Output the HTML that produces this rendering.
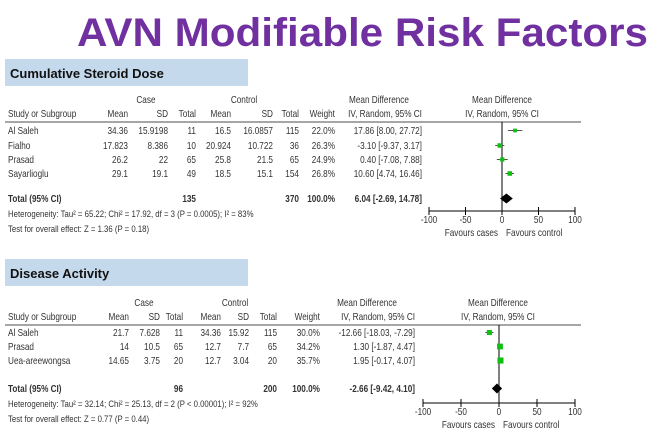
<!DOCTYPE html>
<html><head><meta charset="utf-8"><style>
body{margin:0;background:#fff}
svg{display:block}
</style></head><body>
<svg id="s" width="652" height="442" viewBox="0 0 652 442" xmlns="http://www.w3.org/2000/svg">
<text x="77" y="46" font-family="Liberation Sans, sans-serif" font-weight="bold" font-size="40" fill="#7030A0" textLength="571" lengthAdjust="spacingAndGlyphs">AVN Modifiable Risk Factors</text>
</svg>
<script>
// Panel 1: Cumulative Steroid Dose
const p1Studies=["Al Saleh","Fialho","Prasad","Sayarlioglu"];
const p1CaseMean=["34.36","17.823","26.2","29.1"];
const p1CaseSD=["15.9198","8.386","22","19.1"];
const p1CaseN=["11","10","65","49"];
const p1CtlMean=["16.5","20.924","25.8","18.5"];
const p1CtlSD=["16.0857","10.722","21.5","15.1"];
const p1CtlN=["115","36","65","154"];
const p1Weight=[22.0,26.3,24.9,26.8];
const p1MD=[17.86,-3.10,0.40,10.60];
const p1Lo=[8.00,-9.37,-7.08,4.74];
const p1Hi=[27.72,3.17,7.88,16.46];
const p1Total={md:6.04,lo:-2.69,hi:14.78,caseN:"135",ctlN:"370"};
// Panel 2: Disease Activity
const p2Studies=["Al Saleh","Prasad","Uea-areewongsa"];
const p2CaseMean=["21.7","14","14.65"];
const p2CaseSD=["7.628","10.5","3.75"];
const p2CaseN=["11","65","20"];
const p2CtlMean=["34.36","12.7","12.7"];
const p2CtlSD=["15.92","7.7","3.04"];
const p2CtlN=["115","65","20"];
const p2Weight=[30.0,34.2,35.7];
const p2MD=[-12.66,1.30,1.95];
const p2Lo=[-18.03,-1.87,-0.17];
const p2Hi=[-7.29,4.47,4.07];
const p2Total={md:-2.66,lo:-9.42,hi:4.10,caseN:"96",ctlN:"200"};
const axisTicks=[-100,-50,0,50,100];

const NS="http://www.w3.org/2000/svg";
const svg=document.getElementById('s');
const SX=0.82;
function el(tag,attrs,parent){const e=document.createElementNS(NS,tag);for(const k in attrs)e.setAttribute(k,attrs[k]);(parent||svg).appendChild(e);return e;}
function txt(x,y,s,anchor,opts,name){
  const g=el('g',{transform:'scale('+SX+',1)'});
  const t=el('text',{x:(x/SX).toFixed(1),y:y,'text-anchor':anchor||'start','font-family':'Liberation Sans, sans-serif','font-size':(opts&&opts.fs)||10,fill:'#333','font-weight':(opts&&opts.bold)?'bold':'normal'},g);
  t.textContent=s;
  
  
  return t;
}
function fmt(v){return (v<0?'-':'')+Math.abs(v).toFixed(2);}
function panel(P){
  const box=el('rect',{x:5,y:P.boxY,width:243,height:27,fill:'#c5d9ec'});
  
  
  const ht=el('text',{x:10,y:P.boxY+19,'font-family':'Liberation Sans, sans-serif','font-weight':'bold','font-size':13,fill:'#111'});
  ht.textContent=P.title;
  
  
  const c=P.cols, h1=P.h1;
  txt(c.caseC,h1,'Case','middle',null,'case-header');
  txt(c.ctlC,h1,'Control','middle',null,'control-header');
  txt(c.mdC,h1,'Mean Difference','middle',null,'md-header');
  txt(c.plotC,h1,'Mean Difference','middle',null,'plot-header');
  const h2=h1+14;
  txt(8,h2,'Study or Subgroup','start',null,'study-header');
  txt(c.m1,h2,'Mean','end');txt(c.s1,h2,'SD','end');txt(c.n1,h2,'Total','end');
  txt(c.m2,h2,'Mean','end');txt(c.s2,h2,'SD','end');txt(c.n2,h2,'Total','end');
  txt(c.w,h2,'Weight','end');txt(c.ci,h2,'IV, Random, 95% CI','end');
  txt(c.plotC,h2,'IV, Random, 95% CI','middle');
  const ln=el('line',{x1:5,x2:581,y1:h2+5,y2:h2+5,stroke:'#888','stroke-width':1.5});
  
  
  const xs=v=>P.ax0+v*(P.ax1-P.ax0)/200+(P.ax1-P.ax0)/2;
  const zl=el('line',{x1:xs(0),x2:xs(0),y1:h2+5,y2:P.axY,stroke:'#000','stroke-width':1});
  
  
  P.studies.forEach((s,i)=>{
    const y=P.rowY[i];
    txt(8,y,s,'start',null,'study-name');
    txt(c.m1,y,P.cm[i],'end');txt(c.s1,y,P.cs[i],'end');txt(c.n1,y,P.cn[i],'end');
    txt(c.m2,y,P.tm[i],'end');txt(c.s2,y,P.ts[i],'end');txt(c.n2,y,P.tn[i],'end');
    txt(c.w,y,P.w[i].toFixed(1)+'%','end');
    txt(c.ci,y,fmt(P.md[i])+' ['+fmt(P.lo[i])+', '+fmt(P.hi[i])+']','end');
    const cy=y-3.5;
    const ci=el('line',{x1:xs(P.lo[i]),x2:xs(P.hi[i]),y1:cy,y2:cy,stroke:'#555','stroke-width':1});
    
    
    const sz=P.w[i]*0.17;
    const sq=el('rect',{x:xs(P.md[i])-sz/2,y:cy-sz/2,width:sz,height:sz,fill:'#10c010'});
    
    
  });
  const T=P.total, ty=P.totY;
  txt(8,ty,'Total (95% CI)','start',{bold:1},'total-label');
  txt(c.n1,ty,T.caseN,'end',{bold:1});txt(c.n2,ty,T.ctlN,'end',{bold:1});
  txt(c.w,ty,'100.0%','end',{bold:1});
  txt(c.ci,ty,fmt(T.md)+' ['+fmt(T.lo)+', '+fmt(T.hi)+']','end',{bold:1});
  const dy=ty-3.5;
  const dm=el('polygon',{points:`${xs(T.lo)},${dy} ${xs(T.md)},${dy-5} ${xs(T.hi)},${dy} ${xs(T.md)},${dy+5}`,fill:'#000'});
  
  
  txt(8,ty+15,P.het,'start',{fs:9.5},'heterogeneity-text');
  txt(8,ty+30,P.test,'start',{fs:9.5},'overall-effect-text');
  const ax=el('line',{x1:P.ax0,x2:P.ax1,y1:P.axY,y2:P.axY,stroke:'#000'});
  
  
  axisTicks.forEach(v=>{
    const tk=el('line',{x1:xs(v),x2:xs(v),y1:P.axY-4,y2:P.axY+4,stroke:'#000'});
    
    
    txt(xs(v),P.axY+12,String(v),'middle',{fs:10},'tick-label');
  });
  txt(xs(0)-4,P.axY+25,'Favours cases','end',{fs:10},'favours-cases');
  txt(xs(0)+4,P.axY+25,'Favours control','start',{fs:10},'favours-control');
}
panel({name:'steroid-dose',title:'Cumulative Steroid Dose',boxY:59,h1:103,
  cols:{caseC:146,ctlC:244,mdC:379,plotC:502,m1:128,s1:168,n1:196,m2:231,s2:273,n2:299,w:335,ci:422},
  studies:p1Studies,cm:p1CaseMean,cs:p1CaseSD,cn:p1CaseN,tm:p1CtlMean,ts:p1CtlSD,tn:p1CtlN,
  w:p1Weight,md:p1MD,lo:p1Lo,hi:p1Hi,total:p1Total,rowY:[134,149,163,177],totY:202,
  het:'Heterogeneity: Tau\u00b2 = 65.22; Chi\u00b2 = 17.92, df = 3 (P = 0.0005); I\u00b2 = 83%',
  test:'Test for overall effect: Z = 1.36 (P = 0.18)',ax0:429,ax1:575,axY:211});
panel({name:'disease-activity',title:'Disease Activity',boxY:259,h1:306,
  cols:{caseC:144,ctlC:235,mdC:367,plotC:498,m1:129,s1:160,n1:183,m2:221,s2:249,n2:277,w:320,ci:415},
  studies:p2Studies,cm:p2CaseMean,cs:p2CaseSD,cn:p2CaseN,tm:p2CtlMean,ts:p2CtlSD,tn:p2CtlN,
  w:p2Weight,md:p2MD,lo:p2Lo,hi:p2Hi,total:p2Total,rowY:[336,350,364],totY:392,
  het:'Heterogeneity: Tau\u00b2 = 32.14; Chi\u00b2 = 25.13, df = 2 (P < 0.00001); I\u00b2 = 92%',
  test:'Test for overall effect: Z = 0.77 (P = 0.44)',ax0:423,ax1:575,axY:403});
</script>
</body></html>
